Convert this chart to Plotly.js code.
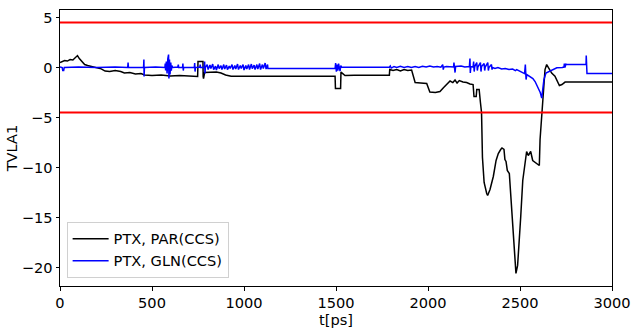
<!DOCTYPE html>
<html>
<head>
<meta charset="utf-8">
<script src="https://cdn.plot.ly/plotly-3.0.1.min.js"></script>
<style>html,body{margin:0;padding:0;background:#fff;}#chart{width:631px;height:333px;}</style>
</head>
<body>
<div id="chart"></div>
<script>
// PTX, PAR(CCS): time [ps] and TVLA1 values
const parT = [0,10,25,40,55,70,85,95,105,120,134,150,170,195,224,245,270,300,330,350,380,410,440,460,500,550,600,650,700,748,750,777,778,780,786,820,850,875,900,930,1000,1495,1497,1525,1527,1535,1549,1600,1790,1792,1810,1830,1850,1870,1890,1911,1925,1930,1960,1993,2005,2010,2040,2065,2085,2100,2120,2135,2147,2158,2170,2190,2210,2228,2245,2250,2262,2265,2278,2285,2291,2296,2305,2319,2324,2337,2355,2370,2382,2395,2402,2413,2418,2424,2431,2442,2455,2464,2473,2478,2487,2496,2504,2515,2527,2536,2545,2558,2569,2594,2605,2609,2616,2620,2630,2636,2645,2655,2672,2690,2700,2714,2728,2745,3000];
const parV = [0.5,0.6,0.7,0.65,0.8,0.75,1.0,1.2,0.9,0.6,0.3,0.2,0.1,0.0,-0.13,-0.35,-0.4,-0.3,-0.4,-0.55,-0.5,-0.65,-0.6,-0.75,-0.8,-0.75,-0.85,-0.8,-0.85,-0.9,0.6,0.6,-0.9,-1.1,-0.5,-0.5,-0.45,-0.55,-0.75,-0.87,-0.87,-0.87,-2.1,-2.1,-0.45,-0.6,-0.8,-0.78,-0.78,-0.2,-0.3,-0.2,-0.35,-0.2,-0.3,-0.25,-1.1,-1.5,-1.55,-1.6,-2.2,-2.45,-2.5,-2.4,-2.0,-1.7,-1.35,-1.5,-1.25,-1.55,-1.3,-1.45,-1.5,-1.65,-1.7,-2.9,-2.9,-2.2,-2.2,-3.5,-4.5,-9.0,-11.5,-12.6,-12.8,-12.2,-10.9,-9.3,-8.6,-8.2,-8.05,-8.2,-9.2,-9.4,-10.3,-10.6,-14.3,-17.6,-19.6,-20.6,-19.8,-17.6,-14.9,-11.3,-9.9,-8.4,-8.8,-8.4,-9.3,-9.6,-9.8,-7.2,-5.2,-4.4,-2.0,-0.2,0.3,0.0,-0.55,-0.87,-1.2,-1.8,-1.7,-1.45,-1.45];

// PTX, GLN(CCS): time [ps] and TVLA1 values
const glnT = [0,12,15,20,23,100,200,300,368,370,372,454,456,457,459,520,570,572,574,578,582,586,590,592,595,598,602,605,608,612,640,643,645,666,668,670,672,730,732,734,736,760,762,764,784,786,788,790,800,805,815,820,830,835,845,850,860,865,875,880,890,895,905,910,920,925,935,940,950,955,965,970,980,985,995,1000,1010,1015,1025,1030,1040,1045,1055,1060,1070,1075,1085,1090,1100,1105,1115,1120,1128,1130,1495,1498,1502,1506,1510,1514,1518,1522,1526,1530,1790,1795,1800,1815,1830,1850,1870,1890,1910,1930,1950,1970,1990,2010,2030,2050,2070,2080,2083,2086,2100,2120,2139,2141,2143,2145,2147,2150,2180,2200,2225,2228,2230,2233,2245,2248,2251,2254,2265,2268,2271,2285,2288,2291,2305,2308,2311,2325,2328,2331,2345,2348,2351,2364,2380,2400,2420,2440,2460,2475,2482,2500,2515,2525,2529,2533,2537,2554,2570,2582,2590,2600,2610,2618,2624,2630,2641,2660,2681,2700,2730,2739,2741,2744,2750,2754,2780,2859,2860,2863,2864,3000];
const glnV = [0.05,0.0,-0.3,-0.3,0.0,0.05,0.0,0.05,0.0,0.5,0.0,0.0,0.8,-0.9,0.0,0.05,0.0,0.4,-0.3,0.6,-0.6,0.9,1.3,-1.1,0.8,-0.7,0.5,-0.3,0.2,0.0,0.05,0.3,0.0,0.0,0.4,-0.3,0.0,0.0,0.45,-0.4,0.0,0.05,0.3,0.0,0.0,0.6,-0.6,0.0,0.3,-0.2,0.25,-0.1,0.35,-0.2,0.15,-0.25,0.3,-0.1,0.2,-0.2,0.3,-0.15,0.25,-0.2,0.15,-0.1,0.3,-0.2,0.2,-0.15,0.35,-0.2,0.2,-0.1,0.3,-0.25,0.2,-0.15,0.3,-0.2,0.35,-0.1,0.25,-0.2,0.3,-0.15,0.4,-0.2,0.3,-0.1,0.45,-0.15,0.3,-0.1,-0.1,0.45,-0.4,0.3,-0.3,0.4,0.0,-0.35,0.2,0.05,0.03,0.15,-0.05,0.1,0.0,0.12,0.02,0.1,0.0,0.1,0.02,0.12,0.05,0.15,0.05,0.1,0.03,0.3,-0.2,0.05,0.1,0.05,0.05,0.5,-0.4,0.35,-0.5,0.1,0.15,0.05,0.1,0.9,-0.55,0.1,0.05,0.6,-0.4,0.1,0.5,-0.3,0.05,0.5,-0.4,0.1,0.4,-0.3,0.05,0.5,-0.3,0.0,0.3,-0.2,0.0,-0.1,0.0,-0.15,-0.1,-0.2,-0.15,-0.3,-0.2,-0.4,-0.5,-0.6,0.3,-1.2,-0.7,-0.9,-1.1,-1.4,-1.7,-2.2,-2.5,-3.05,-2.0,-1.2,-0.55,-0.4,-0.2,-0.03,0.0,0.05,0.4,0.0,0.35,0.3,0.3,0.3,1.2,0.3,-0.6,-0.6];

// threshold lines
const thresholds = [4.5, -4.5];
const yTicks = [5, 0, -5, -10, -15, -20];
const xTicks = [0, 500, 1000, 1500, 2000, 2500, 3000];

const traces = [
  {x: parT, y: parV, mode: 'lines', name: 'PTX, PAR(CCS)', line: {color: '#000000', width: 1.5}},
  {x: glnT, y: glnV, mode: 'lines', name: 'PTX, GLN(CCS)', line: {color: '#0000ff', width: 1.5}}
];

const shapes = thresholds.map(v => ({
  type: 'line', xref: 'paper', x0: 0, x1: 1, yref: 'y', y0: v, y1: v,
  line: {color: '#ff0000', width: 2}
}));

const layout = {
  width: 631, height: 333,
  margin: {l: 60, r: 19, t: 10, b: 47},
  paper_bgcolor: '#ffffff', plot_bgcolor: '#ffffff',
  font: {family: 'DejaVu Sans, sans-serif', size: 14.6, color: '#000'},
  showlegend: true,
  legend: {x: 0.012, y: 0.03, xanchor: 'left', yanchor: 'bottom',
    bgcolor: 'rgba(255,255,255,0.8)', bordercolor: '#d0d0d0', borderwidth: 1,
    font: {size: 14.6}, itemwidth: 36, tracegroupgap: 0},
  xaxis: {range: [0, 3000], tickvals: xTicks, showgrid: false, zeroline: false,
    showline: true, mirror: true, linecolor: '#000', linewidth: 1,
    ticks: 'outside', ticklen: 3.5, tickcolor: '#000',
    title: {text: 't[ps]', font: {size: 14.6}, standoff: 4}},
  yaxis: {range: [-21.86, 5.76], tickvals: yTicks, showgrid: false, zeroline: false,
    showline: true, mirror: true, linecolor: '#000', linewidth: 1,
    ticks: 'outside', ticklen: 3.5, tickcolor: '#000',
    title: {text: 'TVLA1', font: {size: 14.6}, standoff: 0}},
  shapes: shapes
};

Plotly.newPlot('chart', traces, layout, {displayModeBar: false, staticPlot: true});
</script>
</body>
</html>
